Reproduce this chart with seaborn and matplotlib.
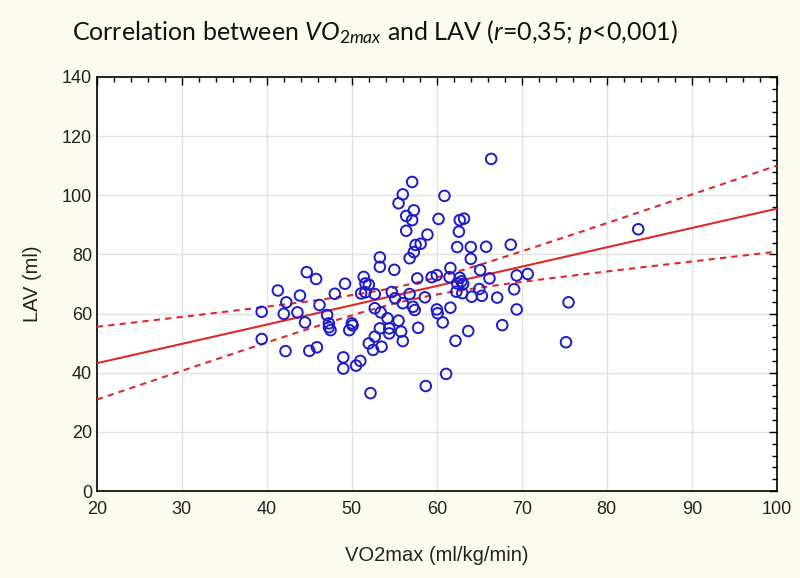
import numpy as np
import pandas as pd
import matplotlib
matplotlib.use("Agg")
import matplotlib.pyplot as plt
import seaborn as sns
from matplotlib.ticker import MultipleLocator

vo2max = [66.4, 57.1, 56.0, 60.9, 55.5, 57.3, 56.4, 57.1, 60.2, 62.7, 63.2, 56.4, 58.9, 62.6,
          57.5, 58.1, 62.4, 64.0, 65.8, 68.7, 57.3, 56.8, 53.3, 64.0, 53.3, 55.0, 61.6, 65.1,
          44.7, 45.8, 57.7, 59.4, 60.0, 61.5, 51.4, 51.6, 52.0, 49.2, 62.7, 62.9, 62.4, 63.1,
          66.2, 69.4, 70.7, 69.1, 65.0, 41.3, 43.9, 42.3, 48.0, 51.1, 51.6, 52.7, 54.7, 55.1,
          56.8, 56.0, 57.2, 57.4, 58.6, 60.0, 60.1, 39.4, 42.0, 43.6, 46.2, 44.5, 47.1, 47.3,
          47.3, 47.5, 50.0, 50.1, 49.7, 52.7, 53.4, 54.2, 55.5, 53.3, 54.4, 54.4, 55.8, 57.8,
          56.0, 52.7, 52.0, 52.5, 53.5, 39.4, 42.2, 45.0, 45.9, 49.0, 49.0, 50.5, 51.0, 52.2,
          58.7, 62.3, 63.0, 64.1, 65.3, 67.1, 69.4, 61.6, 60.7, 63.7, 62.2, 67.7, 75.5, 75.2,
          61.1, 83.7]
lav = [112.3, 104.5, 100.3, 99.8, 97.3, 94.9, 93.0, 91.6, 92.0, 91.6, 92.1, 88.0, 86.7, 87.7,
       83.2, 83.6, 82.5, 82.5, 82.6, 83.3, 80.8, 78.7, 79.0, 78.5, 75.8, 74.8, 75.4, 74.7,
       74.0, 71.7, 71.9, 72.3, 73.0, 72.3, 72.4, 70.2, 69.8, 70.1, 72.1, 70.9, 70.2, 70.0,
       71.9, 72.9, 73.4, 68.2, 68.3, 67.8, 66.1, 63.8, 66.7, 66.8, 67.2, 66.6, 67.3, 65.2,
       66.6, 63.5, 62.3, 61.2, 65.5, 61.4, 60.1, 60.6, 59.9, 60.4, 62.9, 57.0, 59.5, 56.7,
       55.4, 54.4, 56.7, 56.0, 54.4, 61.8, 60.4, 58.4, 57.6, 55.0, 55.0, 53.3, 53.9, 55.2,
       50.7, 52.2, 49.9, 47.7, 48.8, 51.4, 47.3, 47.4, 48.6, 45.2, 41.4, 42.4, 44.0, 33.1,
       35.5, 67.4, 66.9, 65.7, 66.0, 65.4, 61.4, 62.0, 57.0, 54.1, 50.8, 56.1, 63.8, 50.3,
       39.6, 88.5]

x_ticks = [20, 30, 40, 50, 60, 70, 80, 90, 100]
y_ticks = [0, 20, 40, 60, 80, 100, 120, 140]

df = pd.DataFrame({"VO2max": vo2max, "LAV": lav})

sns.set_theme(style="white")
plt.rcParams["font.family"] = ["Liberation Sans", "DejaVu Sans"]

fig = plt.figure(figsize=(8, 5.78), dpi=100, facecolor="#FDFBF0")
ax = fig.add_axes([0.121, 0.1505, 0.850, 0.7163])
ax.set_facecolor("white")
ax.set_xlim(20, 100)
ax.set_ylim(0, 140)

red = "#E0282A"
blue = "#1C1CCB"

# regression line through the library
sns.regplot(data=df, x="VO2max", y="LAV", scatter=False, ci=None, truncate=False,
            ax=ax, line_kws=dict(color=red, lw=1.5, zorder=3))

# confidence bands (dashed)
x = np.asarray(vo2max)
y = np.asarray(lav)
n = len(x)
b, a = np.polyfit(x, y, 1)
res = y - (a + b * x)
s = np.sqrt(np.sum(res ** 2) / (n - 2))
xs = np.linspace(20, 100, 200)
se = s * np.sqrt(1 / n + (xs - x.mean()) ** 2 / np.sum((x - x.mean()) ** 2))
tval = 1.98
ax.plot(xs, a + b * xs + tval * se, color=red, lw=1.5, ls=(0, (3, 2.5)), zorder=3)
ax.plot(xs, a + b * xs - tval * se, color=red, lw=1.5, ls=(0, (3, 2.5)), zorder=3)

sns.scatterplot(data=df, x="VO2max", y="LAV", ax=ax, marker="o", s=58,
                facecolor="none", edgecolor=blue, linewidth=1.4, zorder=4)

ax.set_xticks(x_ticks)
ax.set_yticks(y_ticks)
ax.xaxis.set_minor_locator(MultipleLocator(2))
ax.yaxis.set_minor_locator(MultipleLocator(4))
ax.grid(True, which="major", color="#E2E2E2", lw=1)
ax.set_axisbelow(True)
ax.tick_params(which="both", direction="in", top=True, right=True, color="black",
               labelsize=13, labelcolor="#222222")
ax.tick_params(which="major", length=6, width=1)
ax.tick_params(which="minor", length=3.5, width=1)
ax.tick_params(axis="x", pad=7)
for sp in ax.spines.values():
    sp.set_visible(True)
    sp.set_color("black")
    sp.set_linewidth(1.2)

ax.set_xlabel("VO2max (ml/kg/min)", fontsize=14.5, color="#222222", labelpad=20)
ax.set_ylabel("LAV (ml)", fontsize=14.5, color="#222222", labelpad=14)

plt.rcParams["mathtext.fontset"] = "custom"
plt.rcParams["mathtext.it"] = "Lato:italic"
plt.rcParams["mathtext.rm"] = "Lato"
fig.text(0.469, 0.944, r"Correlation between $VO_{2max}$ and LAV ($r$=0,35; $p$<0,001)",
         ha="center", va="center", fontsize=18, family="Lato", color="#111111")

fig.savefig("out.png", dpi=100, facecolor=fig.get_facecolor())
